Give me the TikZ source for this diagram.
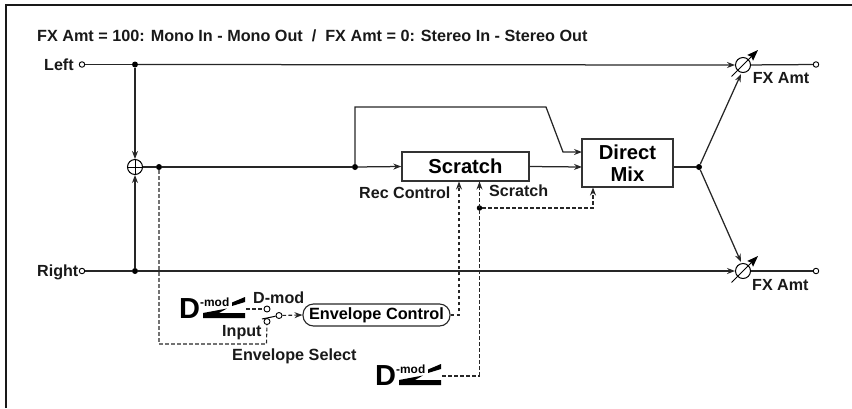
\documentclass[tikz,border=0pt]{standalone}
\usepackage{fontspec}
\setmainfont{Liberation Sans}
\usetikzlibrary{arrows.meta,calc}
\tikzset{
 sig/.style={line width=1.25pt,draw=black!85},
 arr/.style={sig,-{Stealth[length=8pt,width=6pt]}},
 ctl/.style={line width=1.1pt,draw=black!85,dash pattern=on 3.6pt off 2.4pt},
 ctlarr/.style={ctl,-{Stealth[length=8pt,width=6pt]}},
 box/.style={draw=black!80,line width=1.4pt,fill=white,inner sep=0pt},
 lab/.style={font=\bfseries\fontsize{16.1}{18}\selectfont,inner sep=0pt,text=black!90},
 lab2/.style={font=\bfseries\fontsize{16.2}{18}\selectfont,inner sep=0pt,text=black!90},
 big/.style={font=\bfseries\fontsize{20.2}{22}\selectfont,inner sep=0pt,align=center},
 term/.style={circle,draw=black,fill=white,line width=0.9pt,minimum size=5.5pt,inner sep=0pt},
 dotn/.style={circle,fill=black,minimum size=6pt,inner sep=0pt},
 ring/.style={circle,draw=black,line width=1pt,minimum size=15pt,inner sep=0pt,fill=white},
}
\newcommand{\dmodsym}[3]{% x, y of D left/baseline, node name
 \node[inner sep=0pt,anchor=base west,font=\bfseries\fontsize{29}{29}\selectfont] (#3D) at (#1-2,#2) {D};
 \node[inner sep=0pt,anchor=base west,font=\bfseries\fontsize{11.9}{12}\selectfont] (#3m) at (#1+19,#2-12) {-mod};
 \fill[black] (#1+22,#2) -- (#1+22,#2-5) -- (#1+46,#2-9.5) -- (#1+38,#2-5) -- (#1+64,#2-5) -- (#1+64,#2) -- cycle;
 \fill[black] (#1+51,#2-12) -- (#1+51,#2-15.5) -- (#1+64,#2-21) -- (#1+64,#2-16) -- cycle;
 \coordinate (#3o) at (#1+65,#2-9);
}
\begin{document}
\begin{tikzpicture}[x=1pt,y=-1pt]
\useasboundingbox (0,0) rectangle (852,408);
\draw[draw=black!90,line width=1.6pt] (6,408) -- (6,5) -- (852,5);

\node[lab2,anchor=base west] (title) at (37,41) {FX Amt = 100: Mono In - Mono Out\ \ /\ \ FX Amt = 0: Stereo In - Stereo Out};
\node[lab,anchor=base west] (left) at (44,70) {Left};
\node[lab,anchor=base west] (right) at (37,276.5) {Right};

\node[term] (tl) at (82,64.5) {};
\node[term] (bl) at (82,271) {};
\node[term] (tr) at (816,64.5) {};
\node[term] (br) at (816,271) {};
\node[dotn] (jl) at (135,64.5) {};
\node[dotn] (jr) at (135,271) {};
\node[ring] (sum) at (135,167) {};
\draw[line width=1pt] (127.5,167) -- (142.5,167) (135,159.5) -- (135,174.5);
\node[dotn] (j1) at (159,167) {};
\node[dotn] (j2) at (355,167) {};
\node[dotn] (j3) at (699,167) {};
\node[dotn,minimum size=5.5pt] (j4) at (479.5,208) {};

\node[box,minimum width=127pt,minimum height=29pt,big] (scr) at (465.5,166.5) {Scratch};
\node[box,minimum width=91pt,minimum height=48pt,big] (dm) at (627.5,163) {Direct\\Mix};

\node[ring] (vt) at (743,65) {};
\node[ring] (vb) at (743,271) {};

\draw[sig] (tl) -- (jl);
\draw[arr] (jl) -- (vt);
\draw[sig] (vt) -- (tr);
\draw[sig] (bl) -- (jr);
\draw[arr] (jr) -- (vb);
\draw[sig] (vb) -- (br);
\draw[arr,line width=1.4pt] (jl) -- (sum);
\draw[arr,line width=1.4pt] (jr) -- (sum);
\draw[sig] (sum) -- (j1);
\draw[sig] (j1) -- (j2);
\draw[arr] (j2) -- (scr.west);
\draw[arr] (scr.east) -- (582,167);
\draw[sig] (dm.east |- j3) -- (j3);
\draw[arr] (j2) -- (355,107) -- (546,107) -- (563,152) -- (582,152);
\draw[arr] (j3) -- (741,74);
\draw[arr] (j3) -- (741,262);

\foreach \n in {vt,vb}{
 \draw[line width=1pt,-{Stealth[length=11pt,width=8pt,inset=1.5pt]}] ($(\n)+(-11.5,11.5)$) -- ($(\n)+(15,-15)$);
}
\node[lab,anchor=base west] (fx1) at (752.7,83.3) {FX Amt};
\node[lab,anchor=base west] (fx2) at (752,290.7) {FX Amt};

\node[lab,anchor=base west] (rc) at (359,198.7) {Rec Control};
\node[lab,anchor=base west] (sl) at (489,196.7) {Scratch};

\node[draw=black!85,line width=1.1pt,rounded corners=10.5pt,minimum width=147pt,minimum height=22pt,inner sep=0pt,font=\bfseries\fontsize{16.3}{18}\selectfont] (env) at (376.5,315) {Envelope Control};
\coordinate (c1) at (459,315);
\draw[ctlarr] (env.east) -- (c1) -- (459,181.5);
\coordinate (c2) at (479.5,376);
\draw[ctlarr] (c2) -- (479.5,181.5);
\draw[ctlarr] (j4) -- (593,208) -- (593,187.5);

\dmodsym{181}{318}{da}
\dmodsym{377}{385}{db}
\draw[ctl] (dbo) -- (c2);

\node[term,minimum size=6pt] (s1) at (267,309) {};
\node[term,minimum size=6pt] (s2) at (267,321.5) {};
\node[term,minimum size=6pt] (s3) at (279,315.5) {};
\draw[line width=1pt] (262,319) -- (s3);
\draw[ctl] (dao) -- (s1);
\draw[ctl] (j1) -- (159,344) -- (266.5,344) -- (s2);
\draw[ctlarr] (s3) -- (env.west);

\node[lab,anchor=base west] (dml) at (253,303) {D-mod};
\node[lab,anchor=base west] (inl) at (222,336.7) {Input};
\node[lab2,anchor=base west] (es) at (232,360) {Envelope Select};
\end{tikzpicture}
\end{document}
